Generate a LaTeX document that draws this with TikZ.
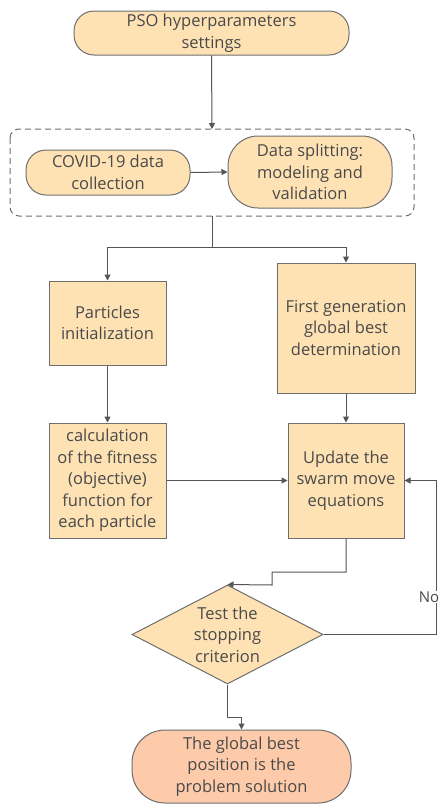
\documentclass[tikz,border=0pt]{standalone}
\usepackage{fontspec}
\setmainfont{Open Sans}
\usetikzlibrary{arrows.meta,shapes.geometric}
\definecolor{boxfill}{HTML}{FEE2B4}
\definecolor{endfill}{HTML}{FDCBAA}
\definecolor{edge}{HTML}{6E6E6E}
\definecolor{txt}{HTML}{4A4A4A}
\definecolor{conn}{HTML}{555555}
\begin{document}
\begin{tikzpicture}[x=1pt,y=-1pt,
  every node/.style={font=\fontsize{16.5}{21.5}\selectfont, text=txt, align=center},
  base/.style={draw=edge, fill=boxfill, line width=1pt, inner sep=0pt},
  stadium/.style={base, rectangle},
  sqbox/.style={base, rectangle},
  conn/.style={draw=conn, line width=1pt, -{Triangle[length=6pt,width=6pt]}},
  plain/.style={draw=conn, line width=1pt}]
\useasboundingbox (0,0) rectangle (442,806);
% dashed group
\draw[edge, line width=1pt, dash pattern=on 6pt off 4pt, rounded corners=9pt] (10,129) rectangle (414,216);
\coordinate (grpTop) at (212,129);
\coordinate (grpBot) at (212,216);
% nodes
\node[stadium, rounded corners=20pt, minimum width=275pt, minimum height=44pt] (pso) at (211.5,33) {PSO hyperparameters\\settings};
\node[stadium, rounded corners=20pt, minimum width=164pt, minimum height=45pt] (covid) at (108,172.5) {COVID-19 data\\collection};
\node[stadium, rounded corners=30pt, minimum width=164pt, minimum height=72pt] (split) at (310,172) {Data splitting:\\modeling and\\validation};
\node[sqbox, minimum width=117pt, minimum height=84pt] (part) at (107.5,323) {Particles\\initialization};
\node[sqbox, minimum width=138pt, minimum height=130pt] (first) at (346,328) {First generation\\global best\\determination};
\node[sqbox, minimum width=117pt, minimum height=115pt] (calc) at (107.5,480.5) {calculation\\of the fitness\\(objective)\\function for\\each particle};
\node[sqbox, minimum width=116pt, minimum height=115pt] (upd) at (346,480.5) {Update the\\swarm move\\equations};
\node[base, diamond, aspect=1.93, minimum width=191pt, minimum height=99pt] (test) at (227.5,634.5) {};
\node at (test.center) {Test the\\stopping\\criterion};
\node[stadium, fill=endfill, rounded corners=33pt, minimum width=219pt, minimum height=73pt] (end) at (241.5,766.5) {The global best\\position is the\\problem solution};
% connectors
\draw[conn] (pso.south) -- (grpTop);
\draw[conn] (covid.east) -- (split.west);
\draw[conn] (grpBot) -- (212,247.5) -| (part.north);
\draw[conn] (grpBot) -- (212,247.5) -| (first.north);
\draw[conn] (part.south) -- (calc.north);
\draw[conn] (first.south) -- (upd.north);
\draw[conn] (calc.east) -- (upd.west);
\draw[conn] (upd.south) -- (346,572) -- (272,572) -- (272,585) -- (test.north);
\draw[conn] (test.east) -- (436,634.5) -- (436,480.5) -- (upd.east);
\node[fill=white, inner sep=1pt, font=\fontsize{15}{16}\selectfont] (no) at (429,597) {No};
\draw[conn] (test.south) -- (227.5,717) -- (241.5,717) -- (end.north);
\end{tikzpicture}
\end{document}
